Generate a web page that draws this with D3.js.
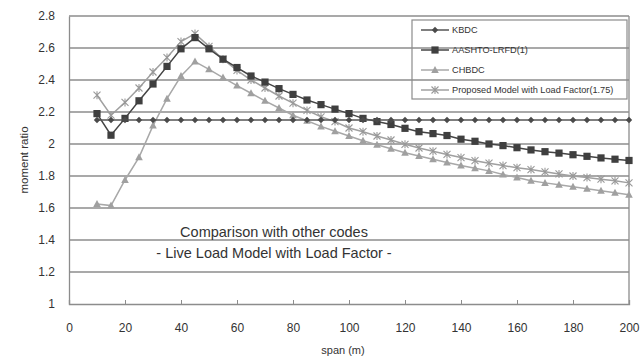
<!DOCTYPE html>
<html><head><meta charset="utf-8">
<script src="https://cdn.jsdelivr.net/npm/d3@7"></script>
<style>body{margin:0;background:#fff}svg{display:block}</style>
</head><body>
<svg id="c" width="643" height="361"></svg>
<script>
const spans = d3.range(10, 201, 5);
const kbdc = spans.map(() => 2.15);
const aashto = [2.19,2.055,2.16,2.27,2.375,2.485,2.595,2.665,2.595,2.53,2.478,2.425,2.387,2.346,2.31,2.275,2.246,2.218,2.19,2.16,2.14,2.122,2.098,2.077,2.065,2.053,2.03,2.017,2.0,1.99,1.977,1.963,1.952,1.943,1.933,1.923,1.913,1.905,1.897];
const chbdc = [1.625,1.615,1.775,1.917,2.115,2.283,2.425,2.515,2.467,2.415,2.365,2.317,2.27,2.225,2.18,2.145,2.11,2.08,2.05,2.02,1.995,1.97,1.945,1.925,1.905,1.885,1.866,1.848,1.832,1.81,1.79,1.77,1.757,1.745,1.733,1.72,1.708,1.695,1.683];
const proposed = [2.305,2.18,2.26,2.35,2.45,2.54,2.64,2.69,2.61,2.53,2.46,2.40,2.35,2.30,2.255,2.21,2.17,2.14,2.10,2.077,2.05,2.025,1.998,1.975,1.955,1.935,1.915,1.896,1.88,1.865,1.852,1.84,1.826,1.813,1.80,1.79,1.78,1.77,1.757];
const xTicks = [0,20,40,60,80,100,120,140,160,180,200];
const yTicks = [1,1.2,1.4,1.6,1.8,2,2.2,2.4,2.6,2.8];
const seriesNames = ["KBDC","AASHTO-LRFD(1)","CHBDC","Proposed Model with Load Factor(1.75)"];
const noteLines = ["Comparison with other codes","- Live Load Model with Load Factor -"];

const svg = d3.select("#c");
const x = d3.scaleLinear().domain([0,200]).range([69,629]);
const y = d3.scaleLinear().domain([1,2.8]).range([304,16]);
const font = "'Liberation Sans', Arial, sans-serif";

// gridlines
svg.append("g").selectAll("line").data(yTicks.filter(v=>v>1)).join("line")
  .attr("x1",x(0)).attr("x2",x(200)).attr("y1",d=>y(d)).attr("y2",d=>y(d))
  .attr("stroke","#8c8c8c").attr("stroke-width",1.3);
// right border
svg.append("line").attr("x1",x(200)).attr("x2",x(200)).attr("y1",y(2.8)).attr("y2",y(1))
  .attr("stroke","#8c8c8c").attr("stroke-width",1.3);

// axes
const xAxis = svg.append("g").attr("transform",`translate(0,${y(1)})`)
  .call(d3.axisBottom(x).tickValues(xTicks).tickSize(-4).tickPadding(19).tickFormat(d3.format("d")));
const yAxis = svg.append("g").attr("transform",`translate(${x(0)},0)`)
  .call(d3.axisLeft(y).tickValues(yTicks).tickSize(0).tickPadding(14).tickFormat(d=>String(+d.toFixed(1))));
[xAxis,yAxis].forEach(g=>{
  g.select(".domain").attr("stroke","#8c8c8c").attr("stroke-width",1.3);
  g.selectAll(".tick line").attr("stroke","#8c8c8c");
  g.selectAll("text").attr("fill","#333").style("font-family",font).style("font-size","12px");
});
xAxis.selectAll(".tick line").attr("stroke-width",1);

svg.append("text").attr("x",343).attr("y",354).attr("text-anchor","middle")
  .style("font-family",font).style("font-size","11px").attr("fill","#333").text("span (m)");
svg.append("text").attr("transform","translate(28,160) rotate(-90)").attr("text-anchor","middle")
  .style("font-family",font).style("font-size","11.5px").attr("fill","#333").text("moment ratio");

// note
svg.append("g").selectAll("text").data(noteLines).join("text")
  .attr("x",274).attr("y",(d,i)=>237+i*21).attr("text-anchor","middle")
  .style("font-family",font).style("font-size","14.5px").attr("fill","#333").text(d=>d);

const series = [
  {name:seriesNames[0], vals:kbdc, color:"#4a4a4a", lc:"#555", marker:"diamond"},
  {name:seriesNames[1], vals:aashto, color:"#3f3f3f", lc:"#444", marker:"square"},
  {name:seriesNames[2], vals:chbdc, color:"#a0a0a0", lc:"#a8a8a8", marker:"triangle"},
  {name:seriesNames[3], vals:proposed, color:"#999", lc:"#a0a0a0", marker:"star"}
];
const line = d3.line().x(d=>x(d[0])).y(d=>y(d[1]));

function drawMarker(g, type, color){
  if(type==="diamond") g.append("path").attr("d","M0,-3.2L3.2,0L0,3.2L-3.2,0Z").attr("fill",color);
  else if(type==="square") g.append("rect").attr("x",-3.6).attr("y",-3.6).attr("width",7.2).attr("height",7.2).attr("fill",color);
  else if(type==="triangle") g.append("path").attr("d","M0,-4L3.8,3L-3.8,3Z").attr("fill",color);
  else {
    g.append("path").attr("d","M-3.5,-3.5L3.5,3.5M-3.5,3.5L3.5,-3.5M0,-4L0,4").attr("stroke",color).attr("stroke-width",1.1).attr("fill","none");
  }
}

[2,3,1,0].forEach(i=>{
  const s = series[i];
  const pts = spans.map((sp,j)=>[sp,s.vals[j]]);
  svg.append("path").attr("d",line(pts)).attr("fill","none").attr("stroke",s.lc).attr("stroke-width",1.5);
  const mg = svg.append("g");
  pts.forEach(p=>{
    const g = mg.append("g").attr("transform",`translate(${x(p[0])},${y(p[1])})`);
    drawMarker(g,s.marker,s.color);
  });
});

// legend
const lg = svg.append("g");
lg.append("rect").attr("x",412).attr("y",20).attr("width",215).attr("height",79)
  .attr("fill","none").attr("stroke","#8c8c8c").attr("stroke-width",1.2);
series.forEach((s,i)=>{
  const yy = 30 + i*20;
  lg.append("line").attr("x1",421).attr("x2",449).attr("y1",yy).attr("y2",yy).attr("stroke",s.lc).attr("stroke-width",1.5);
  drawMarker(lg.append("g").attr("transform",`translate(435,${yy})`), s.marker, s.color);
  lg.append("text").attr("x",452).attr("y",yy+3.3).style("font-family",font).style("font-size","9.2px")
    .attr("fill","#333").text(s.name);
});
</script>
</body></html>
